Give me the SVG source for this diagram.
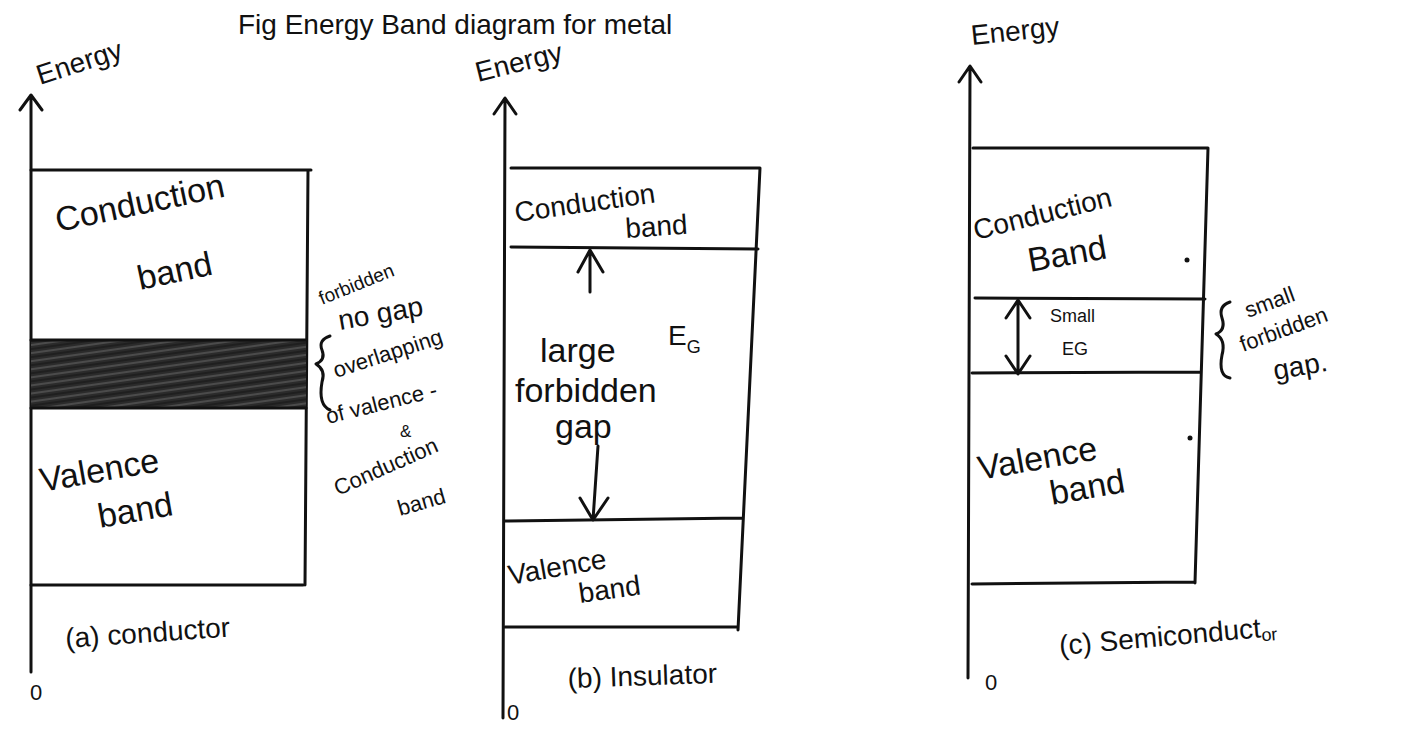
<svg xmlns="http://www.w3.org/2000/svg" width="1406" height="731" viewBox="0 0 1406 731">
<defs>
<style>
.ln{stroke:#111;stroke-width:3;fill:none;stroke-linecap:round;stroke-linejoin:round}
.t{font-family:"Liberation Sans",Arial,sans-serif;fill:#111}
.big{font-size:34px}
.mid{font-size:28px}
.sm{font-size:22px}
.xs{font-size:18px}
</style>
<pattern id="hatch" width="8" height="8" patternUnits="userSpaceOnUse" patternTransform="rotate(-8)">
<rect width="8" height="8" fill="#2b2b2b"/>
<line x1="0" y1="2" x2="8" y2="2" stroke="#555" stroke-width="1.5"/>
<line x1="0" y1="6" x2="8" y2="6" stroke="#1a1a1a" stroke-width="1.5"/>
</pattern>
</defs>
<rect width="1406" height="731" fill="#ffffff"/>

<g id="title">
<text class="t" font-size="28" x="238" y="34">Fig Energy Band diagram for metal</text>
</g>

<g id="connectors">
<path class="ln" d="M31 672 L31 97 M20 110 L31 95 L42 110"/>
<path class="ln" d="M503 718 L505 100 M494 114 L505 98 L516 114"/>
<path class="ln" d="M968 678 L970 68 M959 82 L970 66 L981 82"/>
<path class="ln" d="M590 292 L590 250 M578 272 L590 250 L603 272"/>
<path class="ln" d="M598 446 L593 520 M580 498 L593 520 L608 498"/>
<path class="ln" d="M1018 302 L1018 372 M1006 318 L1018 300 L1030 318 M1006 356 L1018 374 L1030 356"/>
<path class="ln" d="M330 336 Q318 340 322 350 Q326 360 316 364 Q326 370 322 382 Q318 405 330 410" stroke-width="2.5"/>
<path class="ln" d="M1230 302 Q1218 306 1222 318 Q1226 330 1216 334 Q1226 340 1222 355 Q1218 376 1230 378" stroke-width="2.5"/>
</g>

<g id="conductor">
<path class="ln" d="M31 170 L311 170 M308 170 L305 585 M31 585 L303 585"/>
<rect x="31" y="340" width="275" height="68" fill="url(#hatch)"/>
<path class="ln" d="M31 340 L306 340 M31 408 L306 408"/>
<text class="t mid" x="40" y="85" transform="rotate(-18 40 85)">Energy</text>
<text class="t big" x="58" y="232" transform="rotate(-12 58 232)">Conduction</text>
<text class="t big" x="140" y="290" transform="rotate(-12 140 290)">band</text>
<text class="t big" x="42" y="492" transform="rotate(-10 42 492)">Valence</text>
<text class="t big" x="100" y="528" transform="rotate(-10 100 528)">band</text>
<text class="t" font-size="19" x="322" y="305" transform="rotate(-22 322 305)">forbidden</text>
<text class="t mid" x="340" y="330" transform="rotate(-10 340 330)">no gap</text>
<text class="t sm" x="336" y="378" transform="rotate(-18 336 378)">overlapping</text>
<text class="t sm" x="328" y="424" transform="rotate(-14 328 424)">of valence -</text>
<text class="t" font-size="17" x="400" y="437">&amp;</text>
<text class="t sm" x="338" y="496" transform="rotate(-24 338 496)">Conduction</text>
<text class="t sm" x="400" y="516" transform="rotate(-16 400 516)">band</text>
<text class="t mid" x="66" y="648" transform="rotate(-4 66 648)">(a) conductor</text>
<text class="t sm" x="30" y="700">0</text>
</g>

<g id="insulator">
<path class="ln" d="M511 168 L760 168 M760 168 L738 630 M511 247 L758 249 M505 521 L742 518 M505 627 L738 627"/>
<text class="t mid" x="478" y="82" transform="rotate(-14 478 82)">Energy</text>
<text class="t mid" x="516" y="222" transform="rotate(-8 516 222)">Conduction</text>
<text class="t mid" x="626" y="238" transform="rotate(-4 626 238)">band</text>
<text class="t mid" x="668" y="345">E<tspan font-size="18" dy="8">G</tspan></text>
<text class="t big" x="540" y="362">large</text>
<text class="t big" x="515" y="402">forbidden</text>
<text class="t big" x="555" y="438">gap</text>
<text class="t mid" x="510" y="585" transform="rotate(-10 510 585)">Valence</text>
<text class="t mid" x="580" y="603" transform="rotate(-8 580 603)">band</text>
<text class="t mid" x="568" y="688" transform="rotate(-2 568 688)">(b) Insulator</text>
<text class="t sm" x="507" y="720">0</text>
</g>

<g id="semiconductor">
<path class="ln" d="M973 148 L1208 148 M1208 148 L1195 583 M975 298 L1205 299 M972 373 L1200 372 M972 584 L1195 582"/>
<text class="t mid" x="972" y="45" transform="rotate(-6 972 45)">Energy</text>
<text class="t mid" x="976" y="240" transform="rotate(-14 976 240)">Conduction</text>
<text class="t big" x="1030" y="272" transform="rotate(-10 1030 272)">Band</text>
<circle cx="1187" cy="260" r="2.5" fill="#111"/>
<text class="t xs" x="1050" y="322">Small</text>
<text class="t xs" x="1062" y="355">EG</text>
<text class="t big" x="980" y="480" transform="rotate(-10 980 480)">Valence</text>
<text class="t big" x="1052" y="505" transform="rotate(-10 1052 505)">band</text>
<circle cx="1190" cy="438" r="2.5" fill="#111"/>
<text class="t sm" x="1248" y="318" transform="rotate(-20 1248 318)">small</text>
<text class="t sm" x="1243" y="352" transform="rotate(-20 1243 352)">forbidden</text>
<text class="t mid" x="1275" y="380" transform="rotate(-10 1275 380)">gap.</text>
<text class="t mid" x="1060" y="655" transform="rotate(-5 1060 655)">(c) Semiconduct<tspan font-size="18" dy="4">or</tspan></text>
<text class="t sm" x="985" y="690">0</text>
</g>
</svg>
